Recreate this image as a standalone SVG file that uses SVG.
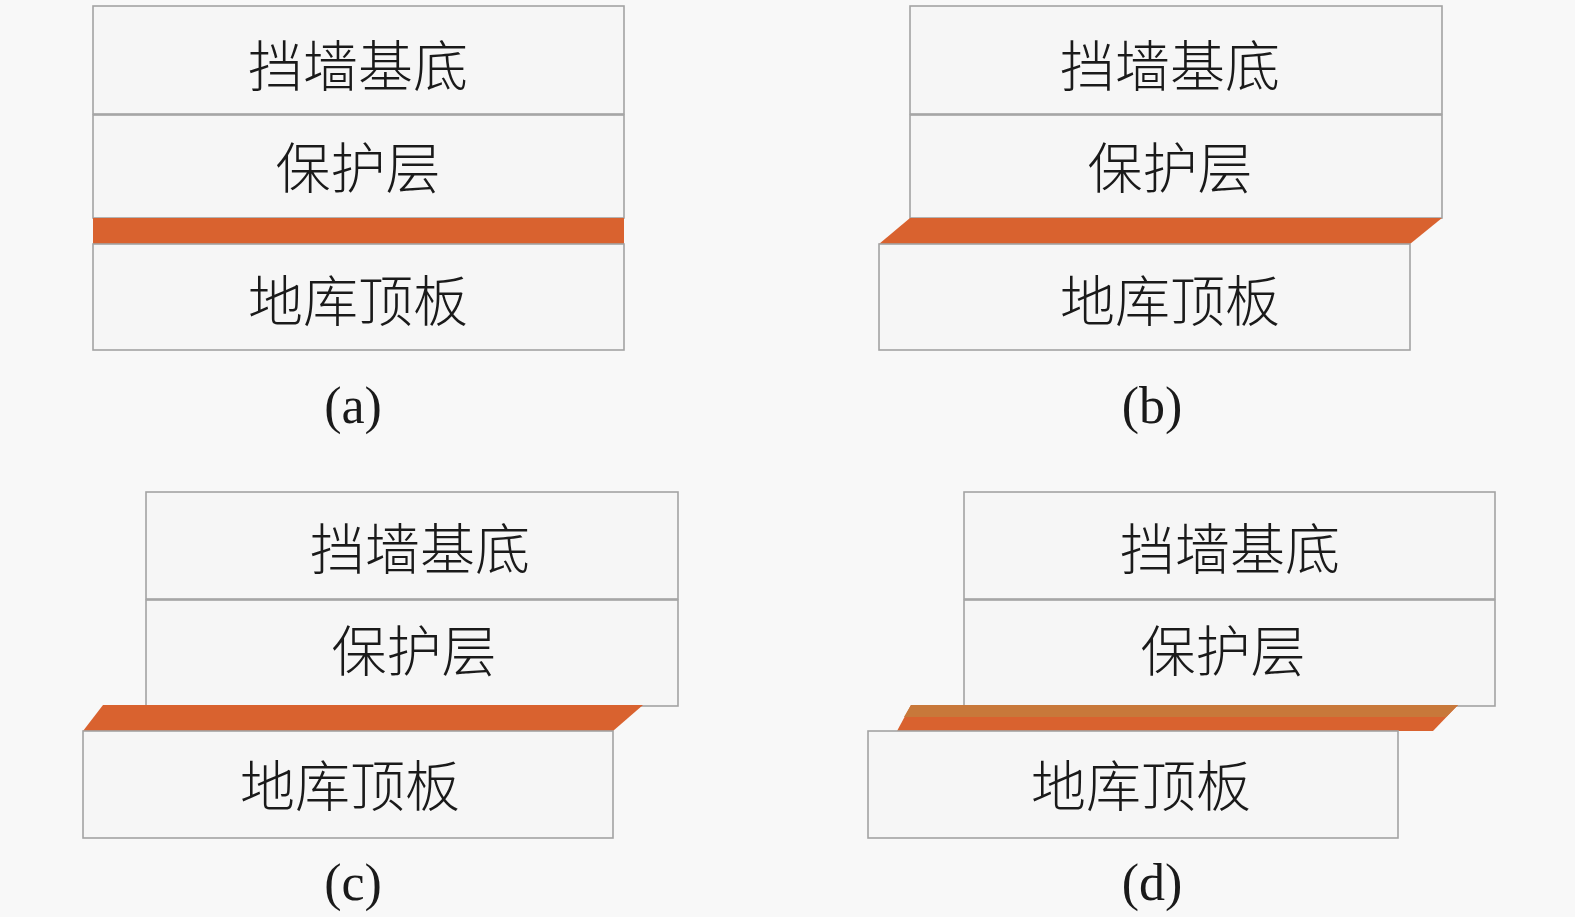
<svg xmlns="http://www.w3.org/2000/svg" width="1575" height="917" viewBox="0 0 1575 917">
<style>
.bx{fill:#f6f6f6;stroke:#a3a3a3;stroke-width:1.6}
.or{fill:#d9622f}
.br{fill:#c8783a}
.t{font-family:"Noto Sans CJK SC","Noto Sans CJK JP",sans-serif;font-weight:300;font-size:55px;fill:#1a1a1a;text-anchor:middle}
.l{font-family:"Liberation Serif","Times New Roman",serif;font-size:52px;fill:#1a1a1a;text-anchor:middle}
</style>
<rect width="1575" height="917" fill="#f8f8f8"/>
<g id="panel-a">
<rect class="bx" x="93" y="6" width="531" height="108"/>
<rect class="bx" x="93" y="115" width="531" height="103"/>
<rect class="or" x="93" y="218" width="531" height="26"/>
<rect class="bx" x="93" y="244" width="531" height="106"/>
<text class="t" x="358" y="86">挡墙基底</text>
<text class="t" x="358" y="188">保护层</text>
<text class="t" x="358" y="321">地库顶板</text>
<text class="l" x="353" y="423">(a)</text>
</g>
<g id="panel-b">
<rect class="bx" x="910" y="6" width="532" height="108"/>
<rect class="bx" x="910" y="115" width="532" height="103"/>
<polygon class="or" points="910,218 1442,218 1410,244 879,244"/>
<rect class="bx" x="879" y="244" width="531" height="106"/>
<text class="t" x="1170" y="86">挡墙基底</text>
<text class="t" x="1170" y="188">保护层</text>
<text class="t" x="1170" y="321">地库顶板</text>
<text class="l" x="1152" y="423">(b)</text>
</g>
<g id="panel-c">
<rect class="bx" x="146" y="492" width="532" height="107"/>
<rect class="bx" x="146" y="600" width="532" height="106"/>
<polygon class="or" points="103,705 643,705 613,731 83,731"/>
<rect class="bx" x="83" y="731" width="530" height="107"/>
<text class="t" x="420" y="569">挡墙基底</text>
<text class="t" x="414" y="671">保护层</text>
<text class="t" x="350" y="806">地库顶板</text>
<text class="l" x="353" y="900">(c)</text>
</g>
<g id="panel-d">
<rect class="bx" x="964" y="492" width="531" height="107"/>
<rect class="bx" x="964" y="600" width="531" height="106"/>
<polygon class="or" points="911,705 1458,705 1433,731 897,731"/>
<polygon class="br" points="911,705 1458,705 1446,717 904,717"/>
<rect class="bx" x="868" y="731" width="530" height="107"/>
<text class="t" x="1230" y="569">挡墙基底</text>
<text class="t" x="1223" y="671">保护层</text>
<text class="t" x="1141" y="806">地库顶板</text>
<text class="l" x="1152" y="900">(d)</text>
</g>
<g id="connectors"></g>
</svg>
